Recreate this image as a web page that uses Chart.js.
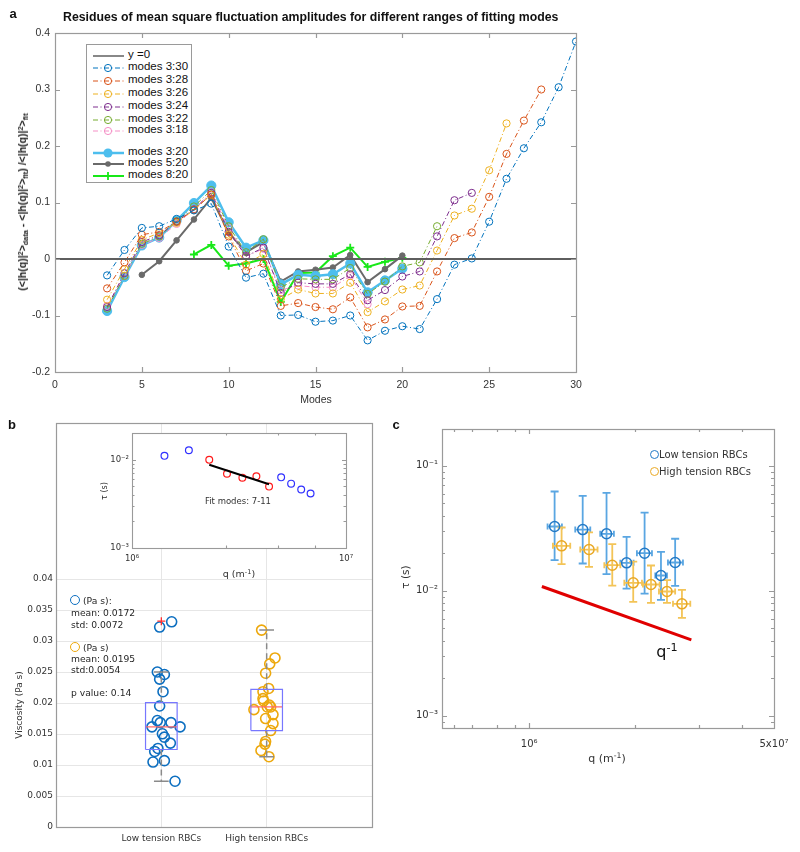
<!DOCTYPE html>
<html><head><meta charset="utf-8">
<script src="https://cdn.jsdelivr.net/npm/chart.js@4.4.1/dist/chart.umd.min.js"></script>
<style>
body{margin:0;background:#fff;}
#fig{position:relative;width:800px;height:852px;overflow:hidden;background:#fff;}
#fig canvas{position:absolute;}
.t{position:absolute;white-space:nowrap;line-height:1;}
.t sup{font-size:70%;vertical-align:0.45em;line-height:0;}
.t sub{font-size:70%;vertical-align:-0.25em;line-height:0;}
</style></head><body><div id="fig"></div>
<script>
// ---------------- DATA: panel a ----------------
const modeNumbers = [3,4,5,6,7,8,9,10,11,12,13,14,15,16,17,18,19,20,21,22,23,24,25,26,27,28,29,30];
const zeroLineX = [0,30];
const zeroLineY = [0,0];
const res_3_30 = [-0.029,0.016,0.055,0.058,0.071,0.086,0.098,0.022,-0.033,-0.026,-0.100,-0.099,-0.111,-0.109,-0.100,-0.144,-0.127,-0.119,-0.124,-0.071,-0.010,0.001,0.066,0.142,0.196,0.242,0.304,0.385];
const res_3_28 = [-0.052,-0.006,0.043,0.048,0.066,0.087,0.114,0.040,-0.021,-0.008,-0.083,-0.078,-0.085,-0.089,-0.068,-0.121,-0.107,-0.084,-0.083,-0.022,0.037,0.047,0.110,0.186,0.245,0.300];
const res_3_26 = [-0.072,-0.018,0.034,0.046,0.064,0.087,0.114,0.043,-0.010,0.009,-0.071,-0.054,-0.061,-0.061,-0.042,-0.094,-0.075,-0.054,-0.047,0.015,0.077,0.089,0.157,0.240];
const res_3_24 = [-0.085,-0.025,0.030,0.042,0.066,0.088,0.117,0.048,0.005,0.020,-0.060,-0.042,-0.044,-0.044,-0.027,-0.073,-0.055,-0.031,-0.022,0.040,0.104,0.117];
const res_3_22 = [-0.088,-0.030,0.027,0.040,0.067,0.093,0.122,0.058,0.012,0.035,-0.050,-0.035,-0.036,-0.036,-0.016,-0.062,-0.040,-0.013,-0.006,0.058];
const res_3_18 = [-0.083,-0.030,0.025,0.037,0.062,0.088,0.118,0.055,0.005,0.018,-0.055,-0.047,-0.050,-0.050,-0.030,-0.080];
const res_3_20 = [-0.092,-0.032,0.024,0.038,0.068,0.099,0.130,0.065,0.020,0.033,-0.045,-0.028,-0.030,-0.027,-0.008,-0.059,-0.038,-0.017];
const res_5_20 = [-0.028,-0.004,0.033,0.070,0.108,0.047,0.012,0.030,-0.040,-0.022,-0.019,-0.015,0.007,-0.041,-0.018,0.006];
const res_8_20 = [0.008,0.025,-0.012,-0.008,0.000,-0.076,-0.025,-0.024,0.005,0.020,-0.014,-0.005,0.002];
const xTicksA = [0,5,10,15,20,25,30];
const yTicksA = [-0.2,-0.1,0,0.1,0.2,0.3,0.4];
const yTickLabelsA = ['-0.2','-0.1','0','0.1','0.2','0.3','0.4'];

// ---------------- DATA: panel b ----------------
const groupNames = ['Low tension RBCs','High tension RBCs'];
const groupPos = [1,2];
const lowJitterX = [0.984,1.098,0.962,1.029,0.984,1.016,0.984,0.962,0.990,1.092,0.911,1.178,1.010,1.029,1.086,0.968,0.937,0.921,1.029,1.130];
const lowViscosity = [0.03225,0.0331,0.0250,0.0246,0.02385,0.02182,0.01952,0.01717,0.01684,0.01684,0.01615,0.01615,0.01503,0.01449,0.01353,0.01267,0.01219,0.01048,0.0107,0.00738];
const highJitterX = [1.952,2.079,2.029,1.990,2.019,1.965,1.965,1.971,2.025,2.038,1.879,2.006,2.060,1.990,2.060,2.038,1.990,1.984,1.946,2.022];
const highViscosity = [0.03176,0.02727,0.02631,0.02481,0.02235,0.02182,0.0207,0.02032,0.01968,0.01936,0.01893,0.01936,0.01813,0.01749,0.01668,0.01556,0.0138,0.01337,0.01235,0.01134];
const boxQ1 = [0.0125,0.01556];
const boxMedian = [0.01615,0.01936];
const boxQ3 = [0.02005,0.0222];
const whiskerLow = [0.00738,0.01134];
const whiskerHigh = [0.0250,0.03176];
const outlierX = [1];
const outlierY = [0.0332];
const yTicksB = [0,0.005,0.01,0.015,0.02,0.025,0.03,0.035,0.04];
const yTickLabelsB = ['0','0.005','0.01','0.015','0.02','0.025','0.03','0.035','0.04'];
// inset
const insetBlueQ = [1.418e6,1.844e6,4.977e6,5.54e6,6.175e6,6.83e6];
const insetBlueTau = [0.01109,0.01284,0.00633,0.00537,0.0046,0.00415];
const insetRedQ = [2.296e6,2.779e6,3.279e6,3.813e6,4.37e6];
const insetRedTau = [0.0100,0.00696,0.00628,0.0065,0.00497];
const insetFitQ = [2.296e6,4.37e6];
const insetFitTau = [0.00879,0.00528];
const insetXTickVals = [1e6,2.74e6,4.8e6,7.2e6,1e7];
const insetXTickLabels = ['10⁶','','','','10⁷'];
const insetYTickVals = [1e-3,2e-3,3e-3,4e-3,5e-3,6e-3,7e-3,8e-3,9e-3,1e-2,2e-2];
const insetYTickLabels = ['10⁻³','','','','','','','','','10⁻²',''];

// ---------------- DATA: panel c ----------------
const lowQ = [1.5e6,2.35e6,3.44e6,4.74e6,6.32e6,8.21e6,1.03e7];
const lowQLo = [1.34e6,2.086e6,3.11e6,4.29e6,5.59e6,7.5e6,9.18e6];
const lowQHi = [1.686e6,2.653e6,3.87e6,5.30e6,7.11e6,9.04e6,1.167e7];
const lowTau = [0.0327,0.0309,0.0286,0.01675,0.0200,0.01327,0.01685];
const lowTauLo = [0.0176,0.01655,0.0136,0.0104,0.0095,0.00847,0.01096];
const lowTauHi = [0.0623,0.0575,0.0608,0.0270,0.0423,0.0205,0.0261];
const highQ = [1.677e6,2.6e6,3.77e6,5.27e6,7.0e6,9.04e6,1.148e7];
const highQLo = [1.46e6,2.26e6,3.32e6,4.57e6,6.16e6,7.95e6,9.95e6];
const highQHi = [1.926e6,2.98e6,4.29e6,6.06e6,8.04e6,1.03e7,1.312e7];
const highTau = [0.0229,0.0214,0.01604,0.01159,0.01124,0.00988,0.00787];
const highTauLo = [0.01634,0.01556,0.01103,0.00817,0.00801,0.00801,0.00608];
const highTauHi = [0.0321,0.0294,0.0236,0.0171,0.01595,0.01217,0.01018];
const slopeQ = [1.224e6,1.334e7];
const slopeTau = [0.01083,0.00406];
const xTickValsC = [3e5,4e5,6e5,8e5,1e6,5.4e6,1.5e7,3e7,5e7];
const xTickLabelsC = ['','','','','10⁶','','','','5x10⁷'];
const yTickValsC = [9e-4,1e-3,2e-3,3e-3,4e-3,5e-3,6e-3,7e-3,8e-3,9e-3,1e-2,2e-2,3e-2,4e-2,5e-2,6e-2,7e-2,8e-2,9e-2,1e-1,2e-1];
const yTickLabelsC = ['','10⁻³','','','','','','','','','10⁻²','','','','','','','','','10⁻¹',''];

// ---------------- helpers ----------------
const fig = document.getElementById('fig');
Chart.defaults.animation = false;
Chart.defaults.font.family = "'DejaVu Sans', sans-serif";
Chart.defaults.color = '#262626';

function makeCanvas(left, top, w, h){
  const c = document.createElement('canvas');
  c.width = w; c.height = h;
  c.style.left = left+'px'; c.style.top = top+'px';
  c.style.width = w+'px'; c.style.height = h+'px';
  fig.appendChild(c);
  return c;
}
function txt(html, x, y, opt){
  opt = opt || {};
  const d = document.createElement('div');
  d.className = 't';
  d.innerHTML = html;
  d.style.font = opt.font || "9px 'DejaVu Sans', sans-serif";
  d.style.color = opt.color || '#262626';
  const ax = opt.align==='left' ? '0%' : (opt.align==='right' ? '-100%' : '-50%');
  d.style.left = x+'px'; d.style.top = y+'px';
  d.style.transform = 'translate('+ax+',-50%)' + (opt.rot ? ' rotate('+opt.rot+'deg)' : '');
  fig.appendChild(d);
  return d;
}
function pts(xs, ys){ return xs.map((x,i)=>({x:x, y:ys[i]})); }
function labelFrom(vals, labels){
  return function(v){
    for (let i=0;i<vals.length;i++){ if (Math.abs(vals[i]-v) <= Math.abs(vals[i])*1e-6 + 1e-12) return labels[i]; }
    return '';
  };
}
function setTicks(vals){ return function(scale){ scale.ticks = vals.map(v=>({value:v})); }; }
function fixW(w){ return function(s){ s.width = w; }; }
function fixH(h){ return function(s){ s.height = h; }; }

// frame + inward ticks plugin
const frameTicks = {
  id: 'frameTicks',
  beforeDraw(chart, args, o){
    if (o.bg){ const a = chart.chartArea; chart.ctx.save(); chart.ctx.fillStyle = o.bg; chart.ctx.fillRect(a.left, a.top, a.right-a.left, a.bottom-a.top); chart.ctx.restore(); }
  },
  afterDraw(chart, args, o){
    if (!o.show) return;
    const ctx = chart.ctx, a = chart.chartArea;
    ctx.save();
    ctx.strokeStyle = o.color || '#999'; ctx.lineWidth = o.width || 1;
    const L = o.len || 5, l = o.minor || 3;
    const isMajor = (s, v) => s.type !== 'logarithmic' || Math.abs(Math.log10(v) - Math.round(Math.log10(v))) < 1e-6;
    if (o.ticks !== false){
      const xs = chart.scales.x, ys = chart.scales.y;
      ctx.beginPath();
      xs.ticks.forEach(t => {
        const p = Math.round(xs.getPixelForValue(t.value)) + 0.5;
        if (p < a.left+1 || p > a.right-1) return;
        const len = isMajor(xs, t.value) ? L : l;
        ctx.moveTo(p, a.bottom); ctx.lineTo(p, a.bottom - len);
        ctx.moveTo(p, a.top); ctx.lineTo(p, a.top + len);
      });
      ys.ticks.forEach(t => {
        const p = Math.round(ys.getPixelForValue(t.value)) + 0.5;
        if (p < a.top+1 || p > a.bottom-1) return;
        const len = isMajor(ys, t.value) ? L : l;
        ctx.moveTo(a.left, p); ctx.lineTo(a.left + len, p);
        ctx.moveTo(a.right, p); ctx.lineTo(a.right - len, p);
      });
      ctx.stroke();
    }
    ctx.strokeRect(Math.round(a.left)+0.5, Math.round(a.top)+0.5, Math.round(a.right-a.left), Math.round(a.bottom-a.top));
    ctx.restore();
  }
};
Chart.register(frameTicks);

// error bar plugin (uses chart scales)
const errorBars = {
  id: 'errorBars',
  beforeDatasetsDraw(chart, args, o){
    if (!o.series) return;
    const ctx = chart.ctx, xs = chart.scales.x, ys = chart.scales.y;
    ctx.save();
    o.series.forEach(s => {
      ctx.strokeStyle = s.color; ctx.lineWidth = s.width;
      ctx.beginPath();
      s.x.forEach((xv, i) => {
        const px = xs.getPixelForValue(xv), py = ys.getPixelForValue(s.y[i]);
        const pLo = ys.getPixelForValue(s.yLo[i]), pHi = ys.getPixelForValue(s.yHi[i]);
        const qLo = xs.getPixelForValue(s.xLo[i]), qHi = xs.getPixelForValue(s.xHi[i]);
        ctx.moveTo(px, pLo); ctx.lineTo(px, pHi);
        ctx.moveTo(px - s.cap, pLo); ctx.lineTo(px + s.cap, pLo);
        ctx.moveTo(px - s.cap, pHi); ctx.lineTo(px + s.cap, pHi);
        ctx.moveTo(qLo, py); ctx.lineTo(qHi, py);
        ctx.moveTo(qLo, py - s.hcap); ctx.lineTo(qLo, py + s.hcap);
        ctx.moveTo(qHi, py - s.hcap); ctx.lineTo(qHi, py + s.hcap);
      });
      ctx.stroke();
    });
    ctx.restore();
  }
};
Chart.register(errorBars);

// ================= PANEL A =================
const DD = [5,2.5,1,2.5];
const seriesA = [
  {label:'y =0', x:zeroLineX, y:zeroLineY, color:'#5e5e5e', lcolor:'#888', width:2, dash:[], marker:'none'},
  {label:'modes 3:30', start:3, y:res_3_30, color:'#0072BD', width:1, dash:DD, marker:'open'},
  {label:'modes 3:28', start:3, y:res_3_28, color:'#D95319', width:1, dash:DD, marker:'open'},
  {label:'modes 3:26', start:3, y:res_3_26, color:'#EDB120', width:1, dash:DD, marker:'open'},
  {label:'modes 3:24', start:3, y:res_3_24, color:'#7E2F8E', width:1, dash:DD, marker:'open'},
  {label:'modes 3:22', start:3, y:res_3_22, color:'#77AC30', width:1, dash:DD, marker:'open'},
  {label:'modes 3:18', start:3, y:res_3_18, color:'#F58FC6', width:1, dash:DD, marker:'open'},
  {label:'modes 3:20', start:3, y:res_3_20, color:'#4DBEEE', width:2.5, dash:[], marker:'big', gap:true},
  {label:'modes 5:20', start:5, y:res_5_20, color:'#6a6a6a', width:2, dash:[], marker:'small'},
  {label:'modes 8:20', start:8, y:res_8_20, color:'#18E818', width:2, dash:[], marker:'plus'}
];
const dsA = seriesA.map(s => {
  const xs = s.x || modeNumbers.slice(s.start-3, s.start-3+s.y.length);
  const d = {label:s.label, data:pts(xs, s.y), showLine:true, borderColor:s.color, borderWidth:s.width, borderDash:s.dash, pointBorderColor:s.color};
  if (s.marker==='none'){ d.pointRadius = 0; }
  else if (s.marker==='open'){ d.pointRadius = 3.6; d.pointBorderWidth = 1; d.pointBackgroundColor = 'rgba(0,0,0,0)'; }
  else if (s.marker==='big'){ d.pointRadius = 4.6; d.pointBorderWidth = 1; d.pointBackgroundColor = s.color; }
  else if (s.marker==='small'){ d.pointRadius = 2.8; d.pointBorderWidth = 1; d.pointBackgroundColor = s.color; }
  else if (s.marker==='plus'){ d.pointStyle = 'cross'; d.pointRadius = 4; d.pointBorderWidth = 1.8; }
  return d;
});
new Chart(makeCanvas(0,0,600,420), {
  type:'scatter',
  data:{datasets:dsA},
  options:{
    responsive:false, devicePixelRatio:1,
    layout:{padding:{left:0,right:24,top:33,bottom:0}},
    plugins:{legend:{display:false}, tooltip:{enabled:false}, frameTicks:{show:true, color:'#9a9a9a', width:1.2, len:5}},
    scales:{
      x:{type:'linear', min:0, max:30, afterFit:fixH(48), afterBuildTicks:setTicks(xTicksA),
         grid:{display:false, drawTicks:false}, border:{display:false},
         ticks:{padding:7, font:{family:"'Liberation Sans', sans-serif", size:10.5}, color:'#333', autoSkip:false, maxRotation:0}},
      y:{type:'linear', min:-0.2, max:0.4, afterFit:fixW(55), afterBuildTicks:setTicks(yTicksA),
         grid:{display:false, drawTicks:false}, border:{display:false},
         ticks:{padding:5, font:{family:"'Liberation Sans', sans-serif", size:10.5}, color:'#333', autoSkip:false, callback:labelFrom(yTicksA, yTickLabelsA)}}
    }
  }
});

// legend (panel a)
(function(){
  const box = document.createElement('div');
  box.style.cssText = 'position:absolute;left:86px;top:44px;width:106px;height:139px;border:1px solid #9a9a9a;background:#fff;box-sizing:border-box;';
  fig.appendChild(box);
  const ys = [54,66,79,92,105,118,129,151,162,174];
  seriesA.forEach((s,i) => {
    const y = ys[i];
    const c = s.lcolor || s.color;
    let m = '';
    if (s.marker==='open') m = `<circle cx="15" cy="6" r="3.6" fill="none" stroke="${c}" stroke-width="1"/>`;
    else if (s.marker==='big') m = `<circle cx="15" cy="6" r="4.6" fill="${c}"/>`;
    else if (s.marker==='small') m = `<circle cx="15" cy="6" r="2.8" fill="${c}"/>`;
    else if (s.marker==='plus') m = `<path d="M15 2 V10 M11 6 H19" stroke="${c}" stroke-width="1.8"/>`;
    const dash = s.dash.length ? `stroke-dasharray="${s.dash.join(',')}"` : '';
    const svg = document.createElement('div');
    svg.style.cssText = `position:absolute;left:93px;top:${y-6}px;width:31px;height:12px;`;
    svg.innerHTML = `<svg width="31" height="12"><line x1="0" y1="6" x2="31" y2="6" stroke="${c}" stroke-width="${s.width}" ${dash}/>${m}</svg>`;
    fig.appendChild(svg);
    txt(s.label.replace(' =', '&nbsp;='), 128, y, {align:'left', font:"11.5px 'Liberation Sans', sans-serif", color:'#111'});
  });
})();

// panel a texts
txt('a', 13, 13, {font:"bold 13px 'Liberation Sans', sans-serif", color:'#111'});
(function(){
  const d = txt('Residues of mean square fluctuation amplitudes for different ranges of fitting modes', 63, 17, {align:'left', font:"bold 12px 'Liberation Sans', sans-serif", color:'#111'});
  const w = d.offsetWidth;
  d.style.transformOrigin = 'left center';
  d.style.transform = 'translate(0,-50%) scaleX(' + (495/w) + ')';
})();
txt('Modes', 316, 399, {font:"10.5px 'Liberation Sans', sans-serif", color:'#333'});
txt('(&lt;|h(q)|<sup>2</sup>&gt;<sub>data</sub> - &lt;|h(q)|<sup>2</sup>&gt;<sub>fit</sub>) /&lt;|h(q)|<sup>2</sup>&gt;<sub>fit</sub>', 22, 202, {rot:-90, font:"bold 10.5px 'Liberation Sans', sans-serif", color:'#222'});

// ================= PANEL B (main) =================
const boxHalf = 0.15, capHalf = 0.07;
const dsB = [];
groupPos.forEach((g,i) => {
  dsB.push({data:[{x:g-boxHalf,y:boxQ1[i]},{x:g+boxHalf,y:boxQ1[i]},{x:g+boxHalf,y:boxQ3[i]},{x:g-boxHalf,y:boxQ3[i]},{x:g-boxHalf,y:boxQ1[i]}],
            showLine:true, borderColor:'#7777ff', borderWidth:1.2, pointRadius:0});
  dsB.push({data:[{x:g,y:boxQ3[i]},{x:g,y:whiskerHigh[i]}], showLine:true, borderColor:'#8a8a8a', borderWidth:1.5, borderDash:[6,4], pointRadius:0});
  dsB.push({data:[{x:g,y:boxQ1[i]},{x:g,y:whiskerLow[i]}], showLine:true, borderColor:'#8a8a8a', borderWidth:1.5, borderDash:[6,4], pointRadius:0});
  dsB.push({data:[{x:g-capHalf,y:whiskerHigh[i]},{x:g+capHalf,y:whiskerHigh[i]}], showLine:true, borderColor:'#8a8a8a', borderWidth:1.5, pointRadius:0});
  dsB.push({data:[{x:g-capHalf,y:whiskerLow[i]},{x:g+capHalf,y:whiskerLow[i]}], showLine:true, borderColor:'#8a8a8a', borderWidth:1.5, pointRadius:0});
});
groupPos.forEach((g,i) => {
  dsB.push({data:[{x:g-boxHalf,y:boxMedian[i]},{x:g+boxHalf,y:boxMedian[i]}], showLine:true, borderColor:'#ff6a6a', borderWidth:1.2, pointRadius:0});
});
dsB.push({data:pts(outlierX, outlierY), pointStyle:'cross', pointRadius:4, pointBorderWidth:1.3, pointBorderColor:'#ff3030', showLine:false});
dsB.push({data:pts(lowJitterX, lowViscosity), pointRadius:5, pointBorderWidth:1.6, pointBorderColor:'#0d6fc0', pointBackgroundColor:'rgba(0,0,0,0)', showLine:false});
dsB.push({data:pts(highJitterX, highViscosity), pointRadius:5, pointBorderWidth:1.6, pointBorderColor:'#EDA80C', pointBackgroundColor:'rgba(0,0,0,0)', showLine:false});

new Chart(makeCanvas(0,415,385,437), {
  type:'scatter',
  data:{datasets:dsB},
  options:{
    responsive:false, devicePixelRatio:1,
    layout:{padding:{left:0,right:13,top:5,bottom:0}},
    plugins:{legend:{display:false}, tooltip:{enabled:false}, frameTicks:{show:true, ticks:false, color:'#9a9a9a', width:1.2}},
    scales:{
      x:{type:'linear', min:0, max:3, afterFit:fixH(25), afterBuildTicks:setTicks(groupPos),
         grid:{color:'#e6e6e6', drawTicks:false}, border:{display:false},
         ticks:{padding:6, font:{size:9}, color:'#333', autoSkip:false, maxRotation:0, callback:labelFrom(groupPos, groupNames)}},
      y:{type:'linear', min:0, max:0.0651, afterFit:fixW(56), afterBuildTicks:setTicks(yTicksB),
         grid:{color:'#e6e6e6', drawTicks:false}, border:{display:false},
         ticks:{padding:3, font:{size:9}, color:'#333', autoSkip:false, callback:labelFrom(yTicksB, yTickLabelsB)}}
    }
  }
});

// ================= PANEL B (inset) =================
new Chart(makeCanvas(100,425,260,150), {
  type:'scatter',
  data:{datasets:[
    {data:pts(insetFitQ, insetFitTau), showLine:true, borderColor:'#000', borderWidth:2, pointRadius:0},
    {data:pts(insetBlueQ, insetBlueTau), pointRadius:3.4, pointBorderWidth:1.2, pointBorderColor:'#3030ff', pointBackgroundColor:'rgba(0,0,0,0)'},
    {data:pts(insetRedQ, insetRedTau), pointRadius:3.4, pointBorderWidth:1.2, pointBorderColor:'#ff1a1a', pointBackgroundColor:'rgba(0,0,0,0)'}
  ]},
  options:{
    responsive:false, devicePixelRatio:1,
    layout:{padding:{left:0,right:14,top:7,bottom:0}},
    plugins:{legend:{display:false}, tooltip:{enabled:false}, frameTicks:{show:true, bg:'#fff', color:'#9a9a9a', width:1.1, len:4, minor:2.5}},
    scales:{
      x:{type:'logarithmic', min:1e6, max:1e7, afterFit:fixH(27), afterBuildTicks:setTicks(insetXTickVals),
         grid:{display:false, drawTicks:false}, border:{display:false},
         ticks:{padding:6, font:{size:8.5}, color:'#333', autoSkip:false, maxRotation:0, callback:labelFrom(insetXTickVals, insetXTickLabels)}},
      y:{type:'logarithmic', min:1e-3, max:0.0201, afterFit:fixW(32), afterBuildTicks:setTicks(insetYTickVals),
         grid:{display:false, drawTicks:false}, border:{display:false},
         ticks:{padding:3, font:{size:8.5}, color:'#333', autoSkip:false, callback:labelFrom(insetYTickVals, insetYTickLabels)}}
    }
  }
});
txt('Fit modes: 7-11', 238, 501, {font:"8.5px 'DejaVu Sans', sans-serif", color:'#333'});
txt('q (m<sup>-1</sup>)', 239, 573, {font:"9.5px 'DejaVu Sans', sans-serif", color:'#333'});
txt('τ (s)', 104, 491, {rot:-90, font:"8px 'DejaVu Sans', sans-serif", color:'#333'});

// panel b texts
txt('b', 12, 424, {font:"bold 13px 'Liberation Sans', sans-serif", color:'#111'});
txt('Viscosity (Pa s)', 19, 705, {rot:-90, font:"9px 'DejaVu Sans', sans-serif", color:'#333'});
function circ(x, y, r, color){
  const d = document.createElement('div');
  d.style.cssText = `position:absolute;left:${x-r}px;top:${y-r}px;width:${2*r}px;height:${2*r}px;border:1.6px solid ${color};border-radius:50%;box-sizing:border-box;`;
  fig.appendChild(d);
}
circ(75, 600, 5, '#0d6fc0');
txt('(Pa s):', 83, 600, {align:'left', font:"9.2px 'DejaVu Sans', sans-serif"});
txt('mean: 0.0172', 71, 612, {align:'left', font:"9.2px 'DejaVu Sans', sans-serif"});
txt('std: 0.0072', 71, 624, {align:'left', font:"9.2px 'DejaVu Sans', sans-serif"});
circ(75, 647, 5, '#EDA80C');
txt('(Pa s)', 83, 647, {align:'left', font:"9.2px 'DejaVu Sans', sans-serif"});
txt('mean: 0.0195', 71, 658, {align:'left', font:"9.2px 'DejaVu Sans', sans-serif"});
txt('std:0.0054', 71, 669, {align:'left', font:"9.2px 'DejaVu Sans', sans-serif"});
txt('p value: 0.14', 71, 692, {align:'left', font:"9.2px 'DejaVu Sans', sans-serif"});

// ================= PANEL C =================
new Chart(makeCanvas(400,415,400,360), {
  type:'scatter',
  data:{datasets:[
    {data:pts(slopeQ, slopeTau), showLine:true, borderColor:'#e00000', borderWidth:3, pointRadius:0},
    {data:pts(lowQ, lowTau), pointRadius:5, pointBorderWidth:1.5, pointBorderColor:'#2279c6', pointBackgroundColor:'rgba(0,0,0,0)'},
    {data:pts(highQ, highTau), pointRadius:5, pointBorderWidth:1.5, pointBorderColor:'#e9a824', pointBackgroundColor:'rgba(0,0,0,0)'}
  ]},
  options:{
    responsive:false, devicePixelRatio:1,
    layout:{padding:{left:0,right:26,top:14,bottom:0}},
    plugins:{legend:{display:false}, tooltip:{enabled:false},
      frameTicks:{show:true, color:'#9a9a9a', width:1.2, len:5, minor:3},
      errorBars:{series:[
        {x:lowQ, y:lowTau, yLo:lowTauLo, yHi:lowTauHi, xLo:lowQLo, xHi:lowQHi, color:'#5aa6e2', width:1.8, cap:4, hcap:3},
        {x:highQ, y:highTau, yLo:highTauLo, yHi:highTauHi, xLo:highQLo, xHi:highQHi, color:'#f3c457', width:1.8, cap:4, hcap:3}
      ]}},
    scales:{
      x:{type:'logarithmic', min:2.48e5, max:5e7, afterFit:fixH(47), afterBuildTicks:setTicks(xTickValsC),
         grid:{display:false, drawTicks:false}, border:{display:false},
         ticks:{padding:10, font:{size:10}, color:'#333', autoSkip:false, maxRotation:0, callback:labelFrom(xTickValsC, xTickLabelsC)}},
      y:{type:'logarithmic', min:8e-4, max:0.197, afterFit:fixW(42), afterBuildTicks:setTicks(yTickValsC),
         grid:{display:false, drawTicks:false}, border:{display:false},
         ticks:{padding:4, font:{size:10}, color:'#333', autoSkip:false, callback:labelFrom(yTickValsC, yTickLabelsC)}}
    }
  }
});
txt('c', 396, 424, {font:"bold 13px 'Liberation Sans', sans-serif", color:'#111'});
txt('τ (s)', 405, 577, {rot:-90, font:"10.5px 'DejaVu Sans', sans-serif", color:'#333'});
txt('q (m<sup>-1</sup>)', 607, 758, {font:"11px 'DejaVu Sans', sans-serif", color:'#333'});
txt('q<sup>-1</sup>', 667, 651, {font:"16px 'DejaVu Sans', sans-serif", color:'#111'});
circ(654, 454, 4.5, '#2279c6');
txt('Low tension RBCs', 659, 454, {align:'left', font:"10px 'DejaVu Sans', sans-serif", color:'#333'});
circ(654, 471, 4.5, '#e9a824');
txt('High tension RBCs', 659, 471, {align:'left', font:"10px 'DejaVu Sans', sans-serif", color:'#333'});
</script>
</body></html>
